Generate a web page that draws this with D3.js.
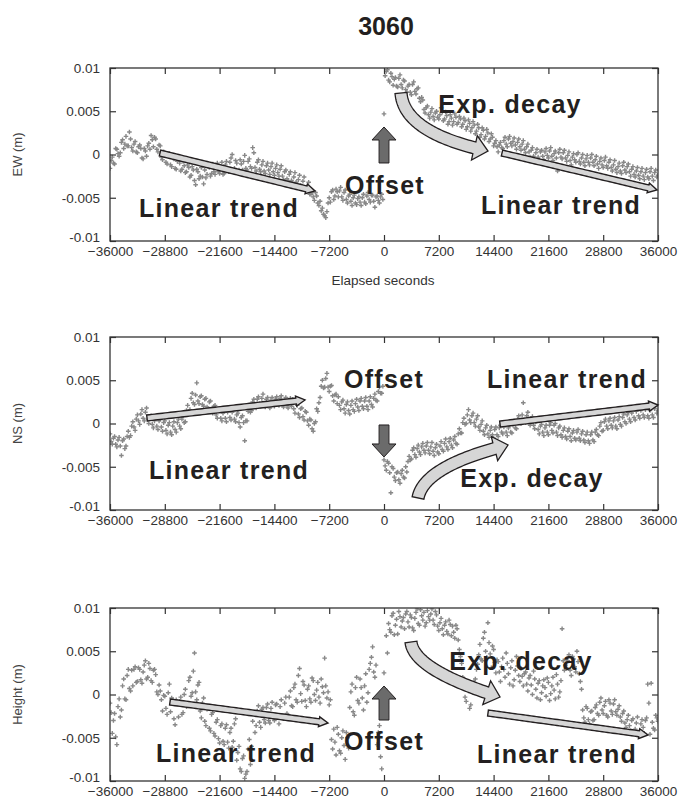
<!DOCTYPE html>
<html>
<head>
<meta charset="utf-8">
<script src="https://cdn.jsdelivr.net/npm/d3@7"></script>
<style>
body{margin:0;background:#fff;}
</style>
</head>
<body>
<div id="chart"></div>
<script>
// station 3060, elapsed seconds around the event, displacement in mm
var xTicks = [-36000,-28800,-21600,-14400,-7200,0,7200,14400,21600,28800,36000];
var yTicks = [-10,-5,0,5,10];
var yTickLabels = ["-0.01","-0.005","0","0.005","0.01"];
// epochs: series "a" at -36000 + i*300, series "b" at -35850 + i*300
var startSec = -36000, stepSec = 300;

var ewA = [
-1.6,-0.3,-1.1,0.6,-0.2,1.4,0.7,2.1,1.0,1.8,
0.4,1.5,0.2,1.1,-0.4,0.7,-0.2,1.3,2.2,0.9,
1.8,0.3,1.0,-0.6,0.2,-1.1,0.1,-1.4,-0.5,-1.7,
-0.6,-1.9,-0.8,-2.1,-1.2,-2.6,-1.4,-3.0,-1.7,-2.8,
-1.5,-3.4,-2.7,-1.3,-2.5,-1.1,-2.3,-1.0,-2.2,-0.9,
-2.2,-0.8,-2.0,-0.4,-1.9,-0.7,-2.1,-0.6,-1.8,-0.1,
-1.8,-0.5,-1.6,0.2,-1.9,-0.6,-2.0,-0.8,-2.2,-1.0,
-2.3,-1.0,-2.4,-1.2,-2.5,-1.3,-2.9,-1.8,-3.1,-2.0,
-3.3,-2.1,-3.5,-2.4,-3.7,-2.6,-4.1,-3.2,-4.6,-4.9,
-4.4,-5.6,-5.4,-6.2,-7.1,-6.6,-5.0,-4.3,-5.2,-4.0,
-4.9,-3.8,-5.3,-4.1,-5.6,-4.6,-5.9,-4.7,-5.8,-4.9,
-5.9,-4.6,-5.7,-4.4,-5.5,-4.7,-6.1,-4.8,-5.6,-4.6,
4.7,9.6,8.6,9.4,8.0,8.9,7.8,9.2,7.7,8.5,
7.2,8.1,6.9,8.4,7.0,7.7,6.1,6.3,4.8,5.6,
4.2,5.3,4.0,5.0,4.1,5.4,3.9,4.9,3.5,4.6,
3.4,4.7,3.5,4.4,3.2,4.2,2.9,4.0,2.7,3.8,
2.4,3.5,2.0,3.1,1.8,2.9,1.5,2.4,1.0,1.6,
0.3,1.4,0.7,2.0,0.9,2.1,1.0,1.9,0.6,1.8,
0.5,1.6,0.2,1.2,-0.3,0.8,-0.7,0.6,-0.6,0.5,
-0.6,0.7,-0.4,0.8,-0.7,0.4,-1.9,0.6,-0.5,0.5,
-0.8,0.3,-1.2,0.1,-0.9,0.2,-1.1,0.0,-1.3,-0.1,
-1.2,0.0,-1.3,-0.2,-1.6,-0.4,-1.5,-0.3,-1.6,-0.6,
-1.9,-0.7,-2.1,-1.0,-2.2,-0.9,-2.1,-1.1,-2.5,-1.4,
-2.6,-1.5,-2.8,-1.6,-2.9,-1.7,-2.8,-1.6,-3.0,-1.8,
-2.4
];
var ewB = [
-0.7,-1.0,0.7,0.1,0.2,1.7,1.2,1.0,2.6,0.8,
1.2,0.3,0.9,0.7,-0.5,0.4,1.0,0.6,1.7,2.0,
0.6,1.1,-0.3,0.3,-0.9,-0.1,-1.2,-0.4,-1.6,-0.8,
-1.0,-1.7,-1.3,-2.0,-1.5,-2.4,-1.8,-3.5,-2.0,-2.5,
-2.6,-1.8,-2.3,-1.5,-2.2,-2.0,-1.3,-2.0,-1.4,-2.3,
-1.2,-1.7,-0.9,0.0,-1.6,-1.0,-1.8,-1.1,-0.8,-1.6,
-0.8,-1.4,0.8,-1.5,-0.9,-1.7,-1.2,-1.9,-1.3,-1.8,
-1.4,-2.0,-1.6,-2.1,-1.7,-2.5,-2.0,-2.8,-2.3,-3.0,
-2.6,-3.2,-2.9,-3.6,-3.1,-3.9,-3.7,-4.6,-4.4,-5.3,
-4.8,-5.9,-6.5,-6.9,-7.3,-5.6,-5.5,-4.1,-4.8,-4.3,
-4.2,-4.9,-4.4,-5.2,-4.8,-5.4,-5.0,-5.6,-5.1,-5.5,
-5.0,-5.5,-4.8,-5.2,-4.7,-5.4,-4.9,-5.3,-4.9,-5.2,
9.1,9.8,8.4,9.0,8.7,7.9,8.8,8.1,8.6,7.5,
7.9,7.2,8.1,7.3,7.6,6.5,6.6,5.2,5.4,4.6,
4.9,4.4,4.8,4.3,4.6,4.9,4.1,4.5,3.8,4.2,
3.8,4.3,3.7,4.1,3.5,3.9,3.2,3.6,3.1,3.4,
2.7,3.1,2.3,2.8,2.1,2.5,1.8,2.0,1.3,0.9,
1.1,0.8,1.6,1.2,1.8,1.3,1.5,1.1,1.4,0.9,
1.2,0.6,0.9,0.3,0.5,-0.2,0.2,-0.3,0.3,-0.2,
0.3,-0.1,0.4,-0.2,0.1,-0.4,0.2,-0.3,0.2,-0.4,
-0.1,-0.7,-0.3,-0.6,0.0,-0.8,-0.4,-0.9,-0.5,-0.9,
-0.4,-0.9,-0.6,-1.1,-0.8,-1.2,-0.7,-1.3,-0.9,-1.5,
-1.2,-1.7,-1.4,-1.9,-1.3,-1.8,-1.4,-2.0,-1.7,-2.3,
-1.9,-2.4,-2.0,-2.5,-2.1,-2.6,-2.0,-2.5,-2.1,-2.6
];

var nsA = [
-1.2,-2.4,-1.5,-2.7,-1.6,-3.7,-1.8,-2.6,-0.9,-1.4,
0.2,-0.8,1.0,-0.1,1.6,0.3,1.8,0.0,0.9,-0.5,
0.6,-0.7,0.5,-0.9,0.3,-1.2,0.1,-1.3,0.2,-1.0,
0.5,-0.6,0.9,0.2,2.1,1.6,3.5,2.2,4.7,2.3,
3.2,2.0,2.9,1.7,2.6,1.2,2.1,0.6,1.6,0.3,
1.4,0.2,1.6,0.4,1.7,0.2,1.2,-0.4,0.9,-2.0,
0.3,1.9,1.5,2.8,1.8,3.1,2.0,3.4,1.9,3.0,
1.8,3.0,2.0,3.1,2.1,3.2,1.9,3.0,1.8,2.9,
2.8,1.2,2.1,0.7,1.8,0.4,1.3,-0.2,0.4,-0.9,
0.2,1.4,3.0,5.0,4.2,5.8,3.7,4.4,2.6,3.4,
3.1,1.6,2.7,1.2,2.5,1.1,2.6,1.4,2.8,1.5,
2.9,1.7,3.0,1.6,3.1,1.9,3.4,2.6,4.2,3.5,
-4.2,-5.4,-4.6,-8.0,-5.2,-6.6,-5.6,-6.9,-5.4,-6.3,
-5.6,-3.8,-4.1,-2.8,-3.9,-2.5,-3.6,-2.3,-3.4,-2.2,
-3.5,-2.2,-3.7,-2.4,-3.5,-2.1,-3.2,-1.8,-3.0,-1.7,
-2.8,-1.5,-2.4,-0.6,-1.1,0.6,0.0,1.6,0.1,1.2,
-0.3,0.9,-0.8,0.3,-1.3,-0.2,-1.6,-0.4,-1.7,-0.4,
-1.5,-0.2,-1.2,-0.1,-1.4,-0.2,-1.1,0.3,-0.6,0.9,
0.0,2.4,0.1,1.3,-0.2,0.8,-0.6,0.3,-1.2,-0.1,
-1.4,-0.2,-1.3,0.1,-1.1,0.0,-1.4,-0.3,-1.6,-0.5,
-1.8,-0.6,-2.0,-0.8,-1.9,-0.7,-2.0,-0.9,-2.2,-1.0,
-2.3,-1.0,-2.1,-0.7,-1.4,0.1,-0.8,0.5,-0.6,0.6,
-0.5,0.7,-0.6,0.8,-0.3,1.1,0.0,1.3,0.2,1.5,
0.4,1.6,0.6,1.8,0.7,1.9,0.6,1.8,0.7,2.0,
1.5
];
var nsB = [
-2.1,-1.7,-2.4,-1.9,-2.6,-2.0,-2.9,-1.5,-1.6,-0.3,
-0.4,0.5,0.3,1.1,0.6,1.3,0.5,0.8,-0.1,0.3,
-0.3,0.3,-0.4,0.1,-0.8,-0.2,-1.0,-0.3,-0.7,0.1,
-0.3,0.5,0.1,1.5,1.4,2.9,2.4,3.3,2.6,3.1,
2.2,2.8,1.9,2.5,1.6,2.0,1.0,1.5,0.6,1.2,
0.6,1.3,0.7,1.3,0.5,1.0,0.1,0.7,0.1,0.3,
1.4,1.3,2.5,1.9,2.8,2.3,2.9,2.2,2.8,2.1,
2.7,2.2,2.8,2.3,2.9,2.2,2.8,2.1,2.6,2.0,
1.7,2.3,1.1,1.7,0.8,1.4,0.3,0.5,-0.6,0.0,
1.7,2.4,4.3,4.1,5.2,4.2,4.3,3.2,3.3,2.3,
2.1,2.5,1.7,2.2,1.5,2.1,1.6,2.3,1.9,2.6,
2.0,2.6,2.0,2.6,2.2,2.9,2.7,3.7,3.5,4.3,
-4.9,-4.4,-5.7,-5.0,-6.2,-5.7,-6.5,-5.8,-6.2,-5.0,
-4.4,-4.2,-3.1,-3.6,-2.9,-3.3,-2.7,-3.1,-2.6,-3.1,
-2.7,-3.2,-2.8,-3.3,-2.6,-3.0,-2.3,-2.7,-2.1,-2.5,
-1.9,-2.3,-1.2,-1.1,0.1,-0.1,1.0,0.4,0.9,0.1,
0.5,-0.4,-0.1,-0.9,-0.5,-1.2,-0.8,-1.3,-0.7,-1.3,
-0.5,-1.0,-0.4,-1.0,-0.5,-1.0,-0.2,-0.5,0.5,0.2,
1.0,0.4,0.9,0.2,0.6,-0.2,0.2,-0.7,-0.3,-1.0,
-0.5,-1.0,-0.2,-0.8,-0.2,-1.0,-0.5,-1.3,-0.8,-1.5,
-0.9,-1.5,-1.1,-1.7,-1.0,-1.7,-1.2,-1.9,-1.3,-2.0,
-1.3,-1.9,-1.0,-1.3,-0.3,-0.9,0.2,-0.3,0.3,-0.2,
0.3,-0.3,0.4,-0.1,0.7,0.2,1.0,0.5,1.2,0.7,
1.4,0.9,1.5,1.0,1.6,0.9,1.5,1.0,1.7,1.2
];

var upA = [
-1.0,-4.5,-2.2,-5.8,-0.5,-1.8,1.8,-0.6,2.9,0.4,
1.0,3.2,1.5,2.9,1.3,3.4,1.8,3.6,1.6,2.8,
2.3,0.0,0.4,-1.9,-0.2,-2.3,1.2,-0.4,-2.8,-0.6,
-2.6,-0.3,-2.1,0.6,-1.2,2.0,0.2,4.8,-0.6,1.4,
-2.7,-0.4,-3.6,-1.5,-4.2,-2.1,-4.8,-2.9,-5.6,-3.4,
-5.8,-3.5,-6.2,-3.9,-5.4,-2.8,-6.7,-8.6,-7.4,-9.7,
-8.9,-5.2,-6.0,-2.1,-3.6,-1.3,-3.8,-1.5,-3.3,-1.1,
-3.3,-0.9,-3.0,-1.1,-3.4,-0.6,-2.8,-0.3,-2.4,0.4,
-1.4,1.2,-0.9,3.0,-0.8,1.1,-1.4,1.0,-0.9,1.6,
-0.7,1.4,-1.0,0.9,4.2,-0.4,-1.2,-5.2,-4.0,-7.0,
-4.6,-6.8,-4.2,-7.5,-5.0,-1.5,1.2,-2.4,2.0,-1.0,
0.8,-1.8,2.4,0.2,3.6,5.5,2.0,-5.8,-3.6,-8.6,
2.5,6.8,8.2,7.2,9.4,8.0,7.0,9.0,8.5,7.6,
9.6,7.8,8.9,7.4,9.5,8.2,9.8,8.6,7.9,9.7,
8.6,9.9,8.1,9.2,7.4,8.8,6.9,8.4,7.0,8.1,
7.9,6.5,7.6,5.2,3.6,1.0,-0.8,0.4,-1.2,0.2,
1.8,3.5,5.8,3.9,7.2,4.3,6.0,3.1,5.2,2.5,
3.8,1.5,4.2,2.0,3.6,1.2,3.9,1.7,4.4,2.2,
3.0,1.0,2.6,0.4,2.2,0.0,1.8,-0.4,1.6,0.2,
1.7,-0.2,1.4,0.1,2.0,-0.5,1.2,0.3,7.6,2.8,
3.0,4.6,2.2,4.1,2.6,3.8,1.5,-1.8,-3.2,-1.6,
-3.4,-1.9,-2.9,-1.2,-2.4,-0.4,-2.2,-0.8,-2.6,-1.0,
-2.3,-0.6,-2.4,-1.3,-3.1,-1.9,-3.8,-2.4,-4.2,-2.8,
-4.0,-2.6,-4.3,-2.9,-4.5,-2.7,-1.0,1.3,-3.9,-2.4,
-3.1
];
var upB = [
-2.1,-3.0,-4.9,-1.4,-2.6,1.0,-0.5,2.2,0.7,2.8,
2.9,1.4,3.1,1.7,2.6,3.9,2.0,3.0,1.4,2.9,
0.3,1.1,-0.6,-0.1,-1.6,0.2,-2.0,-0.6,-3.5,-1.1,
-0.8,-2.3,0.0,-1.4,1.6,-0.2,2.7,0.3,1.1,-1.9,
-1.0,-3.1,-1.7,-3.9,-2.3,-4.5,-3.2,-5.1,-3.6,-5.4,
-3.9,-5.5,-4.4,-6.1,-3.4,-7.6,-6.0,-8.9,-7.1,-9.2,
-6.3,-8.1,-3.1,-4.4,-1.9,-3.2,-1.7,-2.9,-1.5,-3.0,
-1.6,-2.7,-1.2,-2.6,-1.4,-2.5,-1.0,-2.2,-0.3,-1.3,
0.8,-0.6,2.2,0.1,1.5,-0.7,0.6,-0.5,1.9,0.0,
0.5,-0.3,1.8,0.2,1.0,0.3,-0.6,-6.3,-5.5,-3.8,
-6.5,-5.0,-5.9,-4.4,-6.2,0.3,-2.0,0.8,-0.7,1.8,
-0.4,1.0,-0.9,2.9,4.3,2.6,3.4,-4.4,-7.2,-2.5,
0.6,4.8,7.5,9.1,6.9,8.7,9.6,7.8,8.9,9.3,
8.4,9.2,7.7,8.8,9.9,8.0,9.1,9.5,8.3,9.0,
9.3,8.6,9.6,7.9,8.3,7.6,8.0,7.3,8.6,6.8,
7.2,8.0,6.3,4.4,2.0,-0.3,0.9,-1.6,0.5,1.4,
2.9,4.6,4.1,6.5,5.0,8.3,4.7,5.6,3.7,4.0,
2.6,3.2,2.9,4.8,2.4,3.1,1.0,2.8,3.3,1.5,
2.1,2.4,1.2,1.9,1.1,2.7,0.6,1.3,-0.6,1.0,
0.8,1.9,-0.7,1.0,0.5,2.3,-0.3,1.6,3.9,3.4,
3.9,2.8,4.4,3.2,5.0,2.4,0.6,-2.7,-1.4,-2.9,
-2.0,-3.0,-1.5,-2.2,-0.9,-1.8,-1.3,-2.4,-0.6,-1.9,
-1.1,-2.0,-1.7,-2.6,-2.2,-3.3,-2.9,-3.6,-3.0,-4.5,
-3.3,-4.8,-3.4,-3.8,-3.0,1.2,-4.6,-3.2,-4.1,-2.7
];

// annotations, in [seconds, mm]
var ewNotes = [
  {kind:"trend", from:[-29430,0.17], to:[-9065,-4.22]},
  {kind:"jump", from:[0,-0.98], to:[0,3.18]},
  {kind:"decay", from:[2234,7.11], ctrl:[2628,2.49], to:[13665,0.40]},
  {kind:"trend", from:[15504,0.17], to:[35870,-4.1]}
];
var ewLabels = [
  {text:"Linear trend", at:[-21680,-7.23]},
  {text:"Offset", at:[130,-4.57]},
  {text:"Exp. decay", at:[16555,4.8]},
  {text:"Linear trend", at:[23256,-6.88]}
];
var nsNotes = [
  {kind:"trend", from:[-31139,0.64], to:[-10379,2.72]},
  {kind:"jump", from:[0,-0.17], to:[0,-3.87]},
  {kind:"decay", from:[4468,-8.61], ctrl:[5256,-4.91], to:[16293,-2.49]},
  {kind:"trend", from:[15242,-0.06], to:[36000,2.14]}
];
var nsLabels = [
  {text:"Linear trend", at:[-20365,-6.42]},
  {text:"Offset", at:[0,4.1]},
  {text:"Exp. decay", at:[19446,-7.34]},
  {text:"Linear trend", at:[24045,4.1]}
];
var upNotes = [
  {kind:"trend", from:[-28117,-0.87], to:[-7357,-3.29]},
  {kind:"jump", from:[0,-2.95], to:[0,0.98]},
  {kind:"decay", from:[3548,6.07], ctrl:[3942,2.83], to:[15242,-0.29]},
  {kind:"trend", from:[13665,-2.14], to:[34687,-4.68]}
];
var upLabels = [
  {text:"Linear trend", at:[-19445,-7.8]},
  {text:"Offset", at:[0,-6.42]},
  {text:"Exp. decay", at:[18001,2.83]},
  {text:"Linear trend", at:[22731,-7.9]}
];

var panels = [
  {title:"EW (m)", a:ewA, b:ewB, notes:ewNotes, labels:ewLabels, top:68, xTitle:true},
  {title:"NS (m)", a:nsA, b:nsB, notes:nsNotes, labels:nsLabels, top:337, xTitle:false},
  {title:"Height (m)", a:upA, b:upB, notes:upNotes, labels:upLabels, top:608, xTitle:false}
];

var W = 684, H = 806;
var left = 110, right = 658, ph = 173;
var ink = "#231f20";

var svg = d3.select("#chart").append("svg")
    .attr("width", W).attr("height", H)
    .style("font-family", "'Liberation Sans', Arial, sans-serif");

svg.append("text")
    .attr("x", 386).attr("y", 35)
    .attr("text-anchor", "middle")
    .style("font-size", "25px").style("font-weight", "bold")
    .style("fill", ink)
    .text("3060");

var x = d3.scaleLinear().domain([-36000, 36000]).range([left, right]);

// arrow outline along a quadratic curve (straight when ctrl is the midpoint)
function arrowPath(p0, p1, p2, w, hw, hl) {
    var N = 60, pts = [], len = [0];
    for (var i = 0; i <= N; i++) {
        var s = i / N;
        pts.push([
            (1-s)*(1-s)*p0[0] + 2*(1-s)*s*p1[0] + s*s*p2[0],
            (1-s)*(1-s)*p0[1] + 2*(1-s)*s*p1[1] + s*s*p2[1]
        ]);
        if (i > 0) len.push(len[i-1] + Math.hypot(pts[i][0]-pts[i-1][0], pts[i][1]-pts[i-1][1]));
    }
    var cut = len[N] - hl;
    var body = [];
    for (var j = 0; j <= N; j++) {
        if (len[j] <= cut) body.push(pts[j]);
        else {
            var f = (cut - len[j-1]) / (len[j] - len[j-1]);
            body.push([pts[j-1][0] + f*(pts[j][0]-pts[j-1][0]), pts[j-1][1] + f*(pts[j][1]-pts[j-1][1])]);
            break;
        }
    }
    var L = [], R = [];
    body.forEach(function(p, k) {
        var a = body[Math.max(0, k-1)], b = body[Math.min(body.length-1, k+1)];
        var dx = b[0]-a[0], dy = b[1]-a[1], l = Math.hypot(dx, dy) || 1;
        var nx = -dy/l, ny = dx/l;
        L.push([p[0] + nx*w/2, p[1] + ny*w/2]);
        R.push([p[0] - nx*w/2, p[1] - ny*w/2]);
    });
    var base = body[body.length-1];
    var ddx = p2[0]-base[0], ddy = p2[1]-base[1], dl = Math.hypot(ddx, ddy);
    var hx = -ddy/dl, hy = ddx/dl;
    var poly = L.concat([[base[0]+hx*hw/2, base[1]+hy*hw/2], p2, [base[0]-hx*hw/2, base[1]-hy*hw/2]])
        .concat(R.reverse());
    return "M" + poly.map(function(p){ return p[0].toFixed(2) + "," + p[1].toFixed(2); }).join("L") + "Z";
}

var arrowStyle = {
    trend: {w:6, hw:10, hl:9, fill:"#d6d6d6", sw:1.4},
    jump:  {w:10, hw:24, hl:13, fill:"#6b6b6b", sw:1},
    decay: {w:12, hw:25, hl:14, fill:"#d6d6d6", sw:1.3}
};

panels.forEach(function(p, pi) {
    var y = d3.scaleLinear().domain([-10, 10]).range([p.top + ph, p.top]);
    var g = svg.append("g");

    var pts = p.a.map(function(v, i){ return {t: startSec + i*stepSec, v: v}; })
        .concat(p.b.map(function(v, i){ return {t: startSec + stepSec/2 + i*stepSec, v: v}; }));

    g.append("clipPath").attr("id", "clip" + pi)
        .append("rect").attr("x", left).attr("y", p.top)
        .attr("width", right - left).attr("height", ph);

    g.append("g").attr("clip-path", "url(#clip" + pi + ")")
        .selectAll("path")
        .data(pts)
        .enter()
        .append("path")
        .attr("d", "M-2.3,0H2.3M0,-2.3V2.3")
        .attr("transform", function(d) {
            return "translate(" + x(d.t) + "," + y(d.v) + ")";
        })
        .style("stroke", "#888")
        .style("stroke-width", 1.4)
        .style("fill", "none");

    // axes, ticks pointing inward on all four sides
    var ax = g.append("g").attr("transform", "translate(0," + (p.top + ph) + ")")
        .call(d3.axisBottom(x).tickValues(xTicks).tickSizeInner(-6).tickSizeOuter(0)
            .tickPadding(5).tickFormat(d3.format("d")));
    var axTop = g.append("g").attr("transform", "translate(0," + p.top + ")")
        .call(d3.axisTop(x).tickValues(xTicks).tickSizeInner(-6).tickSizeOuter(0).tickFormat(""));
    var ay = g.append("g").attr("transform", "translate(" + left + ",0)")
        .call(d3.axisLeft(y).tickValues(yTicks).tickSizeInner(-6).tickSizeOuter(0)
            .tickPadding(10).tickFormat(function(d, i){ return yTickLabels[i]; }));
    var ayR = g.append("g").attr("transform", "translate(" + right + ",0)")
        .call(d3.axisRight(y).tickValues(yTicks).tickSizeInner(-6).tickSizeOuter(0).tickFormat(""));

    [ax, axTop, ay, ayR].forEach(function(a) {
        a.select(".domain").remove();
        a.selectAll("line").style("stroke", "#333").style("stroke-width", 1.2);
        a.selectAll("text").style("font-size", "13.5px").style("fill", "#333");
    });
    // lowest y label sits a little higher so it clears the first x label
    ay.selectAll("text").filter(function(d){ return d === -10; }).attr("dy", "0.05em");

    g.append("rect")
        .attr("x", left).attr("y", p.top)
        .attr("width", right - left).attr("height", ph)
        .style("fill", "none").style("stroke", "#333").style("stroke-width", 1.3);

    g.append("text")
        .attr("transform", "translate(17," + (p.top + ph/2) + ") rotate(-90)")
        .attr("text-anchor", "middle")
        .attr("dy", "0.35em")
        .style("font-size", "13px").style("fill", "#444")
        .text(p.title);

    if (p.xTitle) {
        g.append("text")
            .attr("x", 383).attr("y", p.top + ph + 44)
            .attr("text-anchor", "middle")
            .style("font-size", "13.5px").style("fill", "#333")
            .text("Elapsed seconds");
    }

    g.selectAll(".note")
        .data(p.notes)
        .enter()
        .append("path")
        .attr("class", "note")
        .attr("d", function(n) {
            var s = arrowStyle[n.kind];
            var a = [x(n.from[0]), y(n.from[1])], b = [x(n.to[0]), y(n.to[1])];
            var c = n.ctrl ? [x(n.ctrl[0]), y(n.ctrl[1])] : [(a[0]+b[0])/2, (a[1]+b[1])/2];
            return arrowPath(a, c, b, s.w, s.hw, s.hl);
        })
        .style("fill", function(n){ return arrowStyle[n.kind].fill; })
        .style("stroke", ink)
        .style("stroke-width", function(n){ return arrowStyle[n.kind].sw; });

    g.selectAll(".lbl")
        .data(p.labels)
        .enter()
        .append("text")
        .attr("class", "lbl")
        .attr("x", function(d){ return x(d.at[0]); })
        .attr("y", function(d){ return y(d.at[1]); })
        .attr("text-anchor", "middle")
        .style("font-size", "25px").style("font-weight", "bold")
        .style("letter-spacing", "1.3px")
        .style("fill", ink)
        .text(function(d){ return d.text; });
});
</script>
</body>
</html>
